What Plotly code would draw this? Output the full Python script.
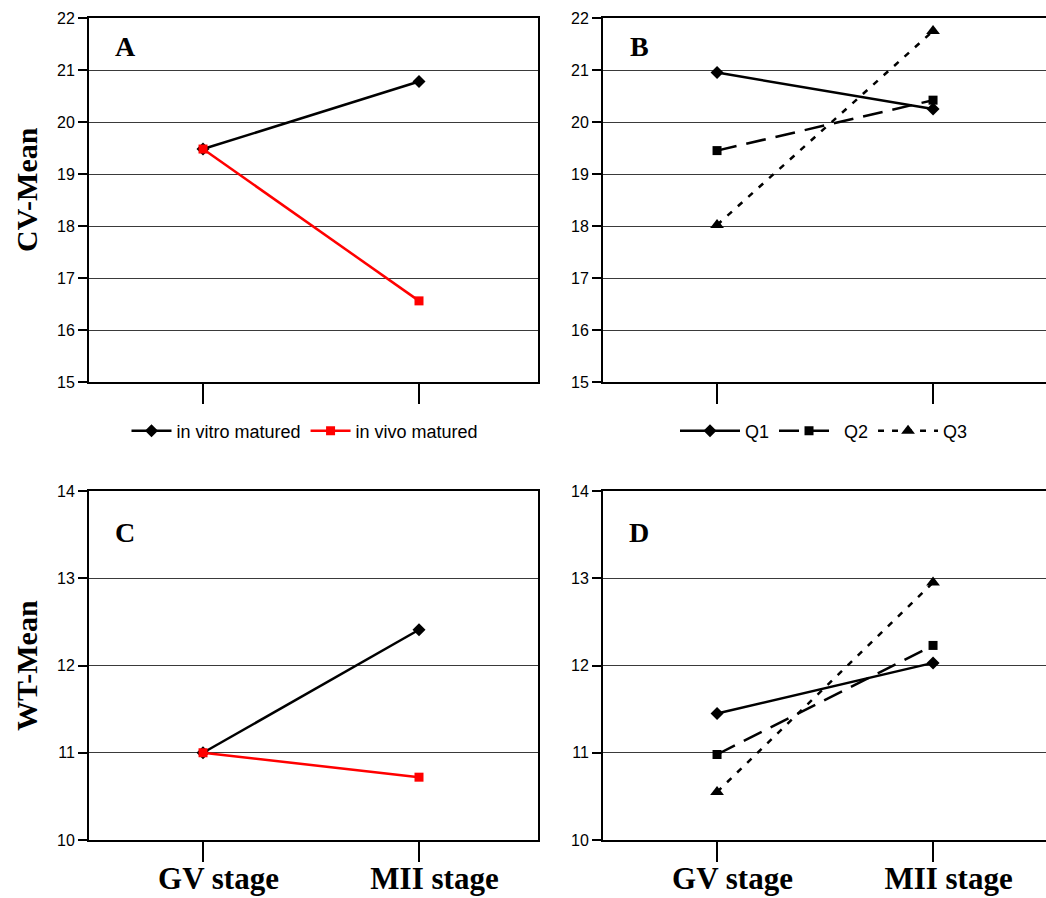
import plotly.graph_objects as go

W, H = 1046, 898

stages = ["GV stage", "MII stage"]
stage_labels = ["&nbsp;&nbsp;&nbsp;&nbsp;<b>GV stage</b>", "&nbsp;&nbsp;&nbsp;&nbsp;<b>MII stage</b>"]

# Panel A (CV-Mean) and C (WT-Mean): maturation
cv_in_vitro = [19.48, 20.78]
cv_in_vivo = [19.48, 16.56]
wt_in_vitro = [11.0, 12.41]
wt_in_vivo = [11.0, 10.72]

# Panel B (CV-Mean) and D (WT-Mean): quality groups
cv_q1 = [20.95, 20.25]
cv_q2 = [19.45, 20.42]
cv_q3 = [18.02, 21.75]
wt_q1 = [11.45, 12.03]
wt_q2 = [10.98, 12.23]
wt_q3 = [10.55, 12.95]

cv_ticks = [15, 16, 17, 18, 19, 20, 21, 22]
wt_ticks = [10, 11, 12, 13, 14]


def px_x(p):
    return p / W


def px_y(p):
    return 1 - p / H


fig = go.Figure()

LW = 2.5
# Panel A
fig.add_trace(go.Scatter(x=stages, y=cv_in_vitro, name="in vitro matured", mode="lines+markers",
                         line=dict(color="black", width=LW), marker=dict(symbol="diamond", size=10, color="black"),
                         xaxis="x", yaxis="y", legend="legend"))
fig.add_trace(go.Scatter(x=stages, y=cv_in_vivo, name="in vivo matured", mode="lines+markers",
                         line=dict(color="#ff0000", width=LW), marker=dict(symbol="square", size=9, color="#ff0000"),
                         xaxis="x", yaxis="y", legend="legend"))
# Panel B
fig.add_trace(go.Scatter(x=stages, y=cv_q1, name="Q1", mode="lines+markers",
                         line=dict(color="black", width=LW), marker=dict(symbol="diamond", size=10, color="black"),
                         xaxis="x2", yaxis="y2", legend="legend2"))
fig.add_trace(go.Scatter(x=stages, y=cv_q2, name="Q2", mode="lines+markers",
                         line=dict(color="black", width=LW, dash="20px,10px"), marker=dict(symbol="square", size=9, color="black"),
                         xaxis="x2", yaxis="y2", legend="legend2"))
fig.add_trace(go.Scatter(x=stages, y=cv_q3, name="Q3", mode="lines+markers",
                         line=dict(color="black", width=LW, dash="6px,8px"), marker=dict(symbol="triangle-up", size=12, color="black"),
                         xaxis="x2", yaxis="y2", legend="legend2"))
# Panel C
fig.add_trace(go.Scatter(x=stages, y=wt_in_vitro, name="in vitro matured", mode="lines+markers", showlegend=False,
                         line=dict(color="black", width=LW), marker=dict(symbol="diamond", size=10, color="black"),
                         xaxis="x3", yaxis="y3"))
fig.add_trace(go.Scatter(x=stages, y=wt_in_vivo, name="in vivo matured", mode="lines+markers", showlegend=False,
                         line=dict(color="#ff0000", width=LW), marker=dict(symbol="square", size=9, color="#ff0000"),
                         xaxis="x3", yaxis="y3"))
# Panel D
fig.add_trace(go.Scatter(x=stages, y=wt_q1, name="Q1", mode="lines+markers", showlegend=False,
                         line=dict(color="black", width=LW), marker=dict(symbol="diamond", size=10, color="black"),
                         xaxis="x4", yaxis="y4"))
fig.add_trace(go.Scatter(x=stages, y=wt_q2, name="Q2", mode="lines+markers", showlegend=False,
                         line=dict(color="black", width=LW, dash="20px,10px"), marker=dict(symbol="square", size=9, color="black"),
                         xaxis="x4", yaxis="y4"))
fig.add_trace(go.Scatter(x=stages, y=wt_q3, name="Q3", mode="lines+markers", showlegend=False,
                         line=dict(color="black", width=LW, dash="6px,8px"), marker=dict(symbol="triangle-up", size=12, color="black"),
                         xaxis="x4", yaxis="y4"))

# empty traces for overlay axes (inside tick half of crossing ticks)
for i in range(4):
    fig.add_trace(go.Scatter(x=[], y=[], showlegend=False, hoverinfo="skip",
                             xaxis=f"x{5 + i}", yaxis="y" if i == 0 else f"y{i + 1}"))

top_dom = [px_y(382), px_y(18)]
bot_dom = [px_y(840), px_y(491)]
left_dom = [px_x(89), px_x(538)]
right_dom = [px_x(603), 1.0]

tickfont = dict(family="Liberation Sans, Arial", size=16, color="black")
xlabfont = dict(family="Liberation Serif, Times New Roman", size=31, color="black")

xrange_left = [-0.528, 1.551]
xrange_right = [-0.528, 1.523]


def xaxis(dom, anchor, labels, rng, mirror):
    return dict(domain=dom, anchor=anchor, type="category", range=rng,
                showline=True, linecolor="black", linewidth=2, mirror=mirror,
                ticks="outside", ticklen=20, tickwidth=2, tickcolor="black",
                showgrid=False, showticklabels=labels, tickfont=xlabfont,
                tickvals=stages, ticktext=stage_labels,
                ticklabelstandoff=-10, automargin=False)


def xover(over, anchor, rng):
    return dict(overlaying=over, anchor=anchor, type="category", range=rng,
                side="bottom", showline=False, showgrid=False, showticklabels=False,
                ticks="inside", ticklen=18, tickwidth=2, tickcolor="black",
                tickvals=stages, automargin=False)


def yaxis(dom, anchor, rng, vals, mirror):
    return dict(domain=dom, anchor=anchor, range=rng, tickvals=vals,
                showline=True, linecolor="black", linewidth=2, mirror=mirror,
                ticks="outside", ticklen=9, tickwidth=1.5, tickcolor="black",
                showgrid=True, gridcolor="#3a3a3a", gridwidth=1, zeroline=False,
                tickfont=tickfont, automargin=False)


legend_font = dict(family="Liberation Sans, Arial", size=18, color="black")

fig.update_layout(
    width=W, height=H,
    margin=dict(l=0, r=0, t=0, b=0, autoexpand=False),
    paper_bgcolor="white", plot_bgcolor="white",
    xaxis=xaxis(left_dom, "y", False, xrange_left, True),
    xaxis2=xaxis(right_dom, "y2", False, xrange_right, True),
    xaxis3=xaxis(left_dom, "y3", True, xrange_left, True),
    xaxis4=xaxis(right_dom, "y4", True, xrange_right, True),
    xaxis5=xover("x", "y", xrange_left),
    xaxis6=xover("x2", "y2", xrange_right),
    xaxis7=xover("x3", "y3", xrange_left),
    xaxis8=xover("x4", "y4", xrange_right),
    yaxis=yaxis(top_dom, "x", [15, 22], cv_ticks, True),
    yaxis2=yaxis(top_dom, "x2", [15, 22], cv_ticks, False),
    yaxis3=yaxis(bot_dom, "x3", [10, 14], wt_ticks, True),
    yaxis4=yaxis(bot_dom, "x4", [10, 14], wt_ticks, False),
    legend=dict(orientation="h", x=px_x(305), xanchor="center", y=px_y(431), yanchor="middle",
                font=legend_font, bgcolor="rgba(0,0,0,0)", itemwidth=40, tracegroupgap=0),
    legend2=dict(orientation="h", x=px_x(824), xanchor="center", y=px_y(431), yanchor="middle",
                 font=legend_font, bgcolor="rgba(0,0,0,0)", itemwidth=60, tracegroupgap=0),
    showlegend=True,
)

letter_font = dict(family="Liberation Serif, Times New Roman", size=28, color="black")
title_font = dict(family="Liberation Serif, Times New Roman", size=30, color="black")
annotations = [
    dict(text="<b>A</b>", x=px_x(125), y=px_y(47)),
    dict(text="<b>B</b>", x=px_x(639), y=px_y(47)),
    dict(text="<b>C</b>", x=px_x(125), y=px_y(532)),
    dict(text="<b>D</b>", x=px_x(639), y=px_y(532)),
]
for a in annotations:
    fig.add_annotation(xref="paper", yref="paper", showarrow=False, xanchor="center", yanchor="middle",
                       font=letter_font, **a)
fig.add_annotation(text="<b>CV-Mean</b>", xref="paper", yref="paper", x=px_x(26), y=px_y(190),
                   showarrow=False, textangle=-90, xanchor="center", yanchor="middle", font=title_font)
fig.add_annotation(text="<b>WT-Mean</b>", xref="paper", yref="paper", x=px_x(26), y=px_y(666),
                   showarrow=False, textangle=-90, xanchor="center", yanchor="middle", font=title_font)

fig.write_html("out.html")
